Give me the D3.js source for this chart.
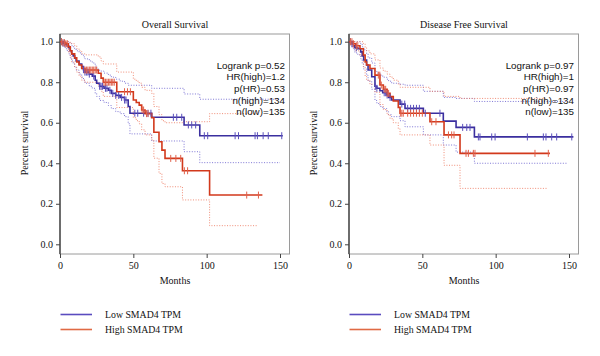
<!DOCTYPE html>
<html><head><meta charset="utf-8">
<script src="https://cdn.jsdelivr.net/npm/d3@7"></script>
<style>body{margin:0;background:#fff}</style>
</head><body>
<svg id="c" width="600" height="356"></svg>
<script>
// ---------- DATA ----------
const xTicks = [0, 50, 100, 150];
const yTicks = [0, 0.2, 0.4, 0.6, 0.8, 1.0];
const panelTitles = ["Overall Survival", "Disease Free Survival"];
const legendLabels = ["Low SMAD4 TPM", "High SMAD4 TPM"];
const osStats = ["Logrank p=0.52", "HR(high)=1.2", "p(HR)=0.53", "n(high)=134", "n(low)=135"];
const dfsStats = ["Logrank p=0.97", "HR(high)=1", "p(HR)=0.97", "n(high)=134", "n(low)=135"];

// Overall survival - low
const osLowTime  = [0,2,3.5,5,6,7,8,9,10,11,13,14.8,16,17,20,22,24,25,27,30,33,35,38,41,44,46.5,47.7,62.5,84.6,95.3];
const osLowSurv  = [1,0.993,0.985,0.978,0.97,0.955,0.94,0.93,0.918,0.905,0.89,0.877,0.862,0.85,0.84,0.83,0.81,0.795,0.78,0.77,0.76,0.745,0.735,0.725,0.712,0.68,0.647,0.627,0.589,0.536];
const osLowUpper = [1,1,1,1,0.995,0.99,0.98,0.975,0.965,0.955,0.945,0.935,0.925,0.915,0.905,0.895,0.88,0.865,0.855,0.845,0.835,0.825,0.815,0.805,0.795,0.785,0.785,0.77,0.742,0.716];
const osLowLower = [1,0.98,0.965,0.955,0.94,0.92,0.905,0.89,0.875,0.86,0.84,0.825,0.81,0.795,0.78,0.77,0.745,0.73,0.71,0.7,0.685,0.67,0.655,0.645,0.63,0.595,0.545,0.51,0.457,0.403];
const osLowCensor = [1,2,3,16,17,18,19,20,23,27,28,29,31,32,34,36,38,40,42,44,45,51,53,57,60,62,77.3,79.6,83,87.5,89.8,92.5,98.4,100.7,119.4,121.7,133,134.6,138.5,142,151.2];
const osLowEnd = 151.9, osLowCIEnd = 150;

// Overall survival - high
const osHighTime  = [0,2,4,5.7,7,8,10,11.4,13,14.8,17,26.1,28,29.5,38.7,50,52,54,55.7,58,62.5,64,67.5,69.5,71.6,83.5,102];
const osHighSurv  = [1,0.995,0.99,0.975,0.955,0.94,0.92,0.90,0.885,0.868,0.86,0.844,0.82,0.80,0.753,0.712,0.70,0.687,0.663,0.645,0.625,0.553,0.506,0.465,0.424,0.363,0.243];
const osHighUpper = [1,1,1,1,0.995,0.99,0.98,0.965,0.955,0.94,0.935,0.925,0.905,0.89,0.85,0.815,0.805,0.795,0.775,0.76,0.745,0.68,0.64,0.61,0.6,0.605,0.645];
const osHighLower = [1,0.98,0.97,0.95,0.925,0.9,0.875,0.85,0.83,0.81,0.8,0.78,0.755,0.73,0.675,0.625,0.61,0.595,0.565,0.54,0.515,0.425,0.35,0.30,0.284,0.219,0.092];
const osHighCensor = [1,2,3,4,5,17,18,19,20,21,22,23,24,25,30,31,32,33,34,35,36,37,44,46,48,56,57,59,60,75.5,79,82.3,84.8,87,127.3,135.3];
const osHighEnd = 138, osHighCIEnd = 135;

// Disease free survival - low
const dfsLowTime  = [0,2,3,4,6,8,9,10,12,13,15.5,17.7,19,21.1,23,25.7,27,29.1,34.8,38.2,50.7,64.3,73,85.5];
const dfsLowSurv  = [1,0.99,0.98,0.97,0.965,0.95,0.93,0.91,0.885,0.86,0.827,0.78,0.77,0.758,0.748,0.737,0.725,0.712,0.692,0.671,0.647,0.608,0.577,0.53];
const dfsLowUpper = [1,1,1,1,1,0.99,0.975,0.96,0.94,0.92,0.895,0.855,0.845,0.835,0.825,0.815,0.805,0.795,0.79,0.785,0.755,0.725,0.72,0.705];
const dfsLowLower = [1,0.975,0.96,0.945,0.935,0.915,0.89,0.865,0.835,0.805,0.765,0.71,0.695,0.68,0.67,0.655,0.64,0.63,0.61,0.58,0.54,0.49,0.455,0.40];
const dfsLowCensor = [1,2,5,18,19,24,25,26,28,36,38,40,42,44,46,48,52,62,77.5,80.3,82.5,88.2,89.3,97.3,99.6,121.6,132.5,134.3,138.2,141.6,151.9];
const dfsLowEnd = 153, dfsLowCIEnd = 148.5;

// Disease free survival - high
const dfsHighTime  = [0,3,4.5,7.5,9.8,11,12,14.3,17.7,21.1,23.4,26,28,30.2,33.6,34.8,55.2,64.8,75.7];
const dfsHighSurv  = [1,0.99,0.98,0.965,0.934,0.9,0.885,0.868,0.835,0.786,0.765,0.745,0.729,0.707,0.676,0.647,0.605,0.54,0.449];
const dfsHighUpper = [1,1,1,1,0.99,0.97,0.955,0.94,0.91,0.87,0.855,0.84,0.825,0.81,0.79,0.775,0.755,0.73,0.72];
const dfsHighLower = [1,0.97,0.955,0.93,0.875,0.83,0.81,0.79,0.75,0.69,0.665,0.64,0.62,0.6,0.57,0.54,0.49,0.39,0.276];
const dfsHighCensor = [1,2,3,5,6,20,21,22,24,25,26,27,35,36,37,40,42,44,46,48,50,56.4,59.3,67.8,70,71.6,79.8,81.4,84.8,85.9,126.8,135.9];
const dfsHighEnd = 137, dfsHighCIEnd = 134.8;

// ---------- STYLE ----------
const BLUE = "#3b2f9f", RED = "#d2391c";
const BLUE_CI = "#7168d0", RED_CI = "#ee8068";
const BLUE_CEN = "#5a4fbb", RED_CEN = "#e0604a";
const BLUE_LEG = "#5a4cbf", RED_LEG = "#e06a44";
const serif = "'Liberation Serif', 'DejaVu Serif', serif";
const sans = "'Liberation Sans', Arial, sans-serif";

const svg = d3.select("#c");

function drawPanel(ox, title, stats, low, high) {
  const g = svg.append("g").attr("transform", `translate(${ox},0)`);
  const x = d3.scaleLinear().domain([0, 150]).range([60, 280]);
  const y = d3.scaleLinear().domain([0, 1]).range([244.3, 41.7]);
  const top = 34, bottom = 254, left = 60, right = 289.5;

  g.append("rect").attr("x", left).attr("y", top).attr("width", right - left).attr("height", bottom - top)
    .attr("fill", "none").attr("stroke", "#9a9a9a").attr("stroke-width", 1);
  g.append("line").attr("x1", left).attr("x2", left).attr("y1", top).attr("y2", bottom)
    .attr("stroke", "#444").attr("stroke-width", 1.4);

  const ya = g.append("g").attr("transform", `translate(${left},0)`)
    .call(d3.axisLeft(y).tickValues(yTicks).tickFormat(d3.format(".1f")).tickSize(4).tickPadding(3));
  ya.select(".domain").remove();
  ya.selectAll("line").attr("stroke", "#444");
  ya.selectAll("text").attr("font-family", serif).attr("font-size", 10).attr("fill", "#111");

  const xa = g.append("g").attr("transform", `translate(0,${bottom})`)
    .call(d3.axisBottom(x).tickValues(xTicks).tickSize(4).tickPadding(4));
  xa.select(".domain").remove();
  xa.selectAll("line").attr("stroke", "#444");
  xa.selectAll("text").attr("font-family", serif).attr("font-size", 10).attr("fill", "#111");

  g.append("text").attr("x", 175).attr("y", 28).attr("text-anchor", "middle")
    .attr("font-family", serif).attr("font-size", 10).attr("fill", "#111").text(title);
  g.append("text").attr("x", 175).attr("y", 284).attr("text-anchor", "middle")
    .attr("font-family", serif).attr("font-size", 10).attr("fill", "#111").text("Months");
  g.append("text").attr("transform", `translate(28,143) rotate(-90)`).attr("text-anchor", "middle")
    .attr("font-family", serif).attr("font-size", 10).attr("fill", "#111").text("Percent survival");

  const line = d3.line().x(d => x(d[0])).y(d => y(d[1])).curve(d3.curveStepAfter);
  const stepPts = (t, s, end) => t.map((v, i) => [v, s[i]]).concat([[end, s[s.length - 1]]]);
  const survAt = (t, s, c) => { let k = 0; for (let i = 0; i < t.length; i++) if (t[i] <= c) k = i; return s[k]; };

  const series = [low, high];
  series.forEach(sr => {
    [sr.upper, sr.lower].forEach(ci => {
      g.append("path").attr("d", line(stepPts(sr.time, ci, sr.ciEnd)))
        .attr("fill", "none").attr("stroke", sr.ciColor).attr("stroke-width", 0.9)
        .attr("stroke-dasharray", "1,1.6");
    });
  });
  series.forEach(sr => {
    g.append("path").attr("d", line(stepPts(sr.time, sr.surv, sr.end)))
      .attr("fill", "none").attr("stroke", sr.color).attr("stroke-width", 1.6);
  });
  series.forEach(sr => {
    g.selectAll(null).data(sr.censor).enter().append("line")
      .attr("x1", d => x(d)).attr("x2", d => x(d))
      .attr("y1", d => y(survAt(sr.time, sr.surv, d)) - 3.5)
      .attr("y2", d => y(survAt(sr.time, sr.surv, d)) + 3.5)
      .attr("stroke", sr.cenColor).attr("stroke-width", 1);
  });

  stats.forEach((s, i) => {
    g.append("text").attr("x", 285).attr("y", 68.5 + i * 11.7).attr("text-anchor", "end")
      .attr("font-family", sans).attr("font-size", 9.8).attr("fill", "#111").text(s);
  });

  [[BLUE_LEG, legendLabels[0], 314.5], [RED_LEG, legendLabels[1], 329.5]].forEach(([c, lab, yy]) => {
    g.append("line").attr("x1", 60.5).attr("x2", 92).attr("y1", yy).attr("y2", yy)
      .attr("stroke", c).attr("stroke-width", 1.6);
    g.append("text").attr("x", 105).attr("y", yy + 3.5).attr("font-family", serif)
      .attr("font-size", 9.8).attr("fill", "#111").text(lab);
  });
}

drawPanel(0, panelTitles[0], osStats,
  {time: osLowTime, surv: osLowSurv, upper: osLowUpper, lower: osLowLower, censor: osLowCensor, end: osLowEnd, ciEnd: osLowCIEnd, color: BLUE, ciColor: BLUE_CI, cenColor: BLUE_CEN},
  {time: osHighTime, surv: osHighSurv, upper: osHighUpper, lower: osHighLower, censor: osHighCensor, end: osHighEnd, ciEnd: osHighCIEnd, color: RED, ciColor: RED_CI, cenColor: RED_CEN});
drawPanel(289, panelTitles[1], dfsStats,
  {time: dfsLowTime, surv: dfsLowSurv, upper: dfsLowUpper, lower: dfsLowLower, censor: dfsLowCensor, end: dfsLowEnd, ciEnd: dfsLowCIEnd, color: BLUE, ciColor: BLUE_CI, cenColor: BLUE_CEN},
  {time: dfsHighTime, surv: dfsHighSurv, upper: dfsHighUpper, lower: dfsHighLower, censor: dfsHighCensor, end: dfsHighEnd, ciEnd: dfsHighCIEnd, color: RED, ciColor: RED_CI, cenColor: RED_CEN});
</script>
</body></html>
